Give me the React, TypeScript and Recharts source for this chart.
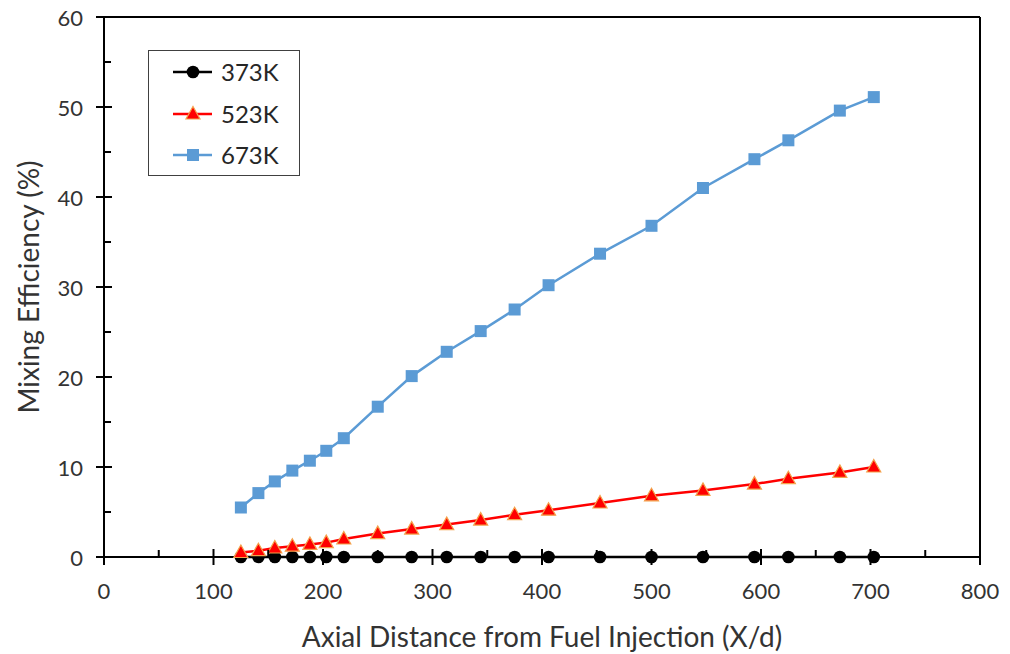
import { Line, LineChart, ReferenceLine, XAxis, YAxis } from "recharts";

// axial stations (X/d)
const stations = [125, 141, 156, 172, 188, 203, 219, 250, 281, 313, 344, 375, 406, 453, 500, 547, 594, 625, 672, 703];

// mixing efficiency (%) per inlet temperature
const eff373 = [0, 0, 0, 0, 0, 0, 0, 0, 0, 0, 0, 0, 0, 0, 0, 0, 0, 0, 0, 0];
const eff523 = [0.5, 0.7, 1.0, 1.2, 1.4, 1.6, 2.0, 2.6, 3.1, 3.6, 4.1, 4.7, 5.2, 6.0, 6.8, 7.4, 8.1, 8.7, 9.4, 10.0];
const eff673 = [5.5, 7.1, 8.4, 9.6, 10.7, 11.8, 13.2, 16.7, 20.1, 22.8, 25.1, 27.5, 30.2, 33.7, 36.8, 41.0, 44.2, 46.3, 49.6, 51.1];

const xTicks = [0, 50, 100, 150, 200, 250, 300, 350, 400, 450, 500, 550, 600, 650, 700, 750, 800];
const yTicks = [0, 5, 10, 15, 20, 25, 30, 35, 40, 45, 50, 55, 60];

const series = [
  { key: "k373", name: "373K", color: "#000000", marker: "circle" },
  { key: "k523", name: "523K", color: "#ff0000", marker: "triangle" },
  { key: "k673", name: "673K", color: "#5b9bd5", marker: "square" },
];

const data = stations.map((x, i) => ({
  x,
  k373: eff373[i],
  k523: eff523[i],
  k673: eff673[i],
}));

const FONT = "Lato, 'Open Sans', sans-serif";
const TEXT = "#333333";

function Marker({ kind, cx, cy }: { kind: string; cx: number; cy: number }) {
  if (kind === "circle") return <circle cx={cx} cy={cy} r={6.3} fill="#000" />;
  if (kind === "triangle")
    return (
      <path
        d={`M${cx},${cy - 7.5} L${cx + 7},${cy + 5} L${cx - 7},${cy + 5} Z`}
        fill="#ff0000"
        stroke="#f4a14b"
        strokeWidth={1.2}
      />
    );
  return <rect x={cx - 6} y={cy - 6} width={12} height={12} fill="#5b9bd5" />;
}

function makeDot(kind: string) {
  return (props: any) => {
    const { cx, cy, index } = props;
    if (cx == null || cy == null) return <g key={`e${index}`} />;
    return (
      <g key={`${kind}-${index}`}>
        <Marker kind={kind} cx={cx} cy={cy} />
      </g>
    );
  };
}

function XTick({ x, y, payload }: any) {
  const v = payload.value;
  if (v % 100 !== 0) {
    return <line x1={x} x2={x} y1={y - 7} y2={y} stroke="#000" strokeWidth={2} />;
  }
  return (
    <g>
      <line x1={x} x2={x} y1={y - 8} y2={y + 8} stroke="#000" strokeWidth={2} />
      <text x={x} y={y + 33} textAnchor="middle" dominantBaseline="central" fontSize={22} fill={TEXT} fontFamily={FONT}>
        {v}
      </text>
    </g>
  );
}

function YTick({ x, y, payload }: any) {
  const v = payload.value;
  if (v % 10 !== 0) {
    return <line x1={x} x2={x + 7} y1={y} y2={y} stroke="#000" strokeWidth={2} />;
  }
  return (
    <g>
      <line x1={x - 8} x2={x + 8} y1={y} y2={y} stroke="#000" strokeWidth={2} />
      <text x={x - 21} y={y} textAnchor="end" dominantBaseline="central" fontSize={22} fill={TEXT} fontFamily={FONT}>
        {v}
      </text>
    </g>
  );
}

function LegendBox() {
  return (
    <div
      style={{
        position: "absolute",
        left: 148,
        top: 50,
        width: 152,
        height: 126,
        border: "1.5px solid #404040",
        boxSizing: "border-box",
        background: "#fff",
      }}
    >
      {series.map((s, i) => (
        <div
          key={s.key}
          style={{ position: "absolute", left: 0, top: 21 + i * 41.5 - 10, height: 20, display: "flex", alignItems: "center" }}
        >
          <svg width={72} height={20} style={{ flex: "none" }}>
            <line x1={24} x2={63} y1={10} y2={10} stroke={s.color} strokeWidth={2.5} />
            <Marker kind={s.marker} cx={44} cy={10} />
          </svg>
          <span style={{ fontFamily: FONT, fontSize: 24, color: "#262626", lineHeight: "20px" }}>{s.name}</span>
        </div>
      ))}
    </div>
  );
}

export default function App() {
  return (
    <div style={{ position: "absolute", left: 0, top: 0, width: 1010, height: 654, background: "#fff" }}>
      <LineChart width={1010} height={654} data={data} margin={{ top: 17, right: 30, bottom: 0, left: 0 }}>
        <XAxis
          dataKey="x"
          type="number"
          domain={[0, 800]}
          ticks={xTicks}
          interval={0}
          height={97}
          tickSize={0}
          tickMargin={0}
          tickLine={false}
          axisLine={{ stroke: "#000", strokeWidth: 2 }}
          tick={<XTick />}
          label={{
            value: "Axial Distance from Fuel Injection (X/d)",
            position: "insideBottom",
            offset: 7,
            style: { fontFamily: FONT, fontSize: 28, fill: TEXT },
          }}
        />
        <YAxis
          type="number"
          domain={[0, 60]}
          ticks={yTicks}
          interval={0}
          width={104}
          tickSize={0}
          tickMargin={0}
          tickLine={false}
          axisLine={{ stroke: "#000", strokeWidth: 2 }}
          tick={<YTick />}
          label={{
            value: "Mixing Efficiency (%)",
            angle: -90,
            position: "insideLeft",
            offset: 29,
            style: { textAnchor: "middle", fontFamily: FONT, fontSize: 28, fill: TEXT },
          }}
        />
        <ReferenceLine y={60} stroke="#000" strokeWidth={2} />
        <ReferenceLine x={800} stroke="#000" strokeWidth={2} />
        {series.map((s) => (
          <Line
            key={s.key}
            dataKey={s.key}
            name={s.name}
            type="linear"
            stroke={s.color}
            strokeWidth={2.5}
            dot={makeDot(s.marker)}
            activeDot={false}
            isAnimationActive={false}
          />
        ))}
      </LineChart>
      <LegendBox />
    </div>
  );
}
